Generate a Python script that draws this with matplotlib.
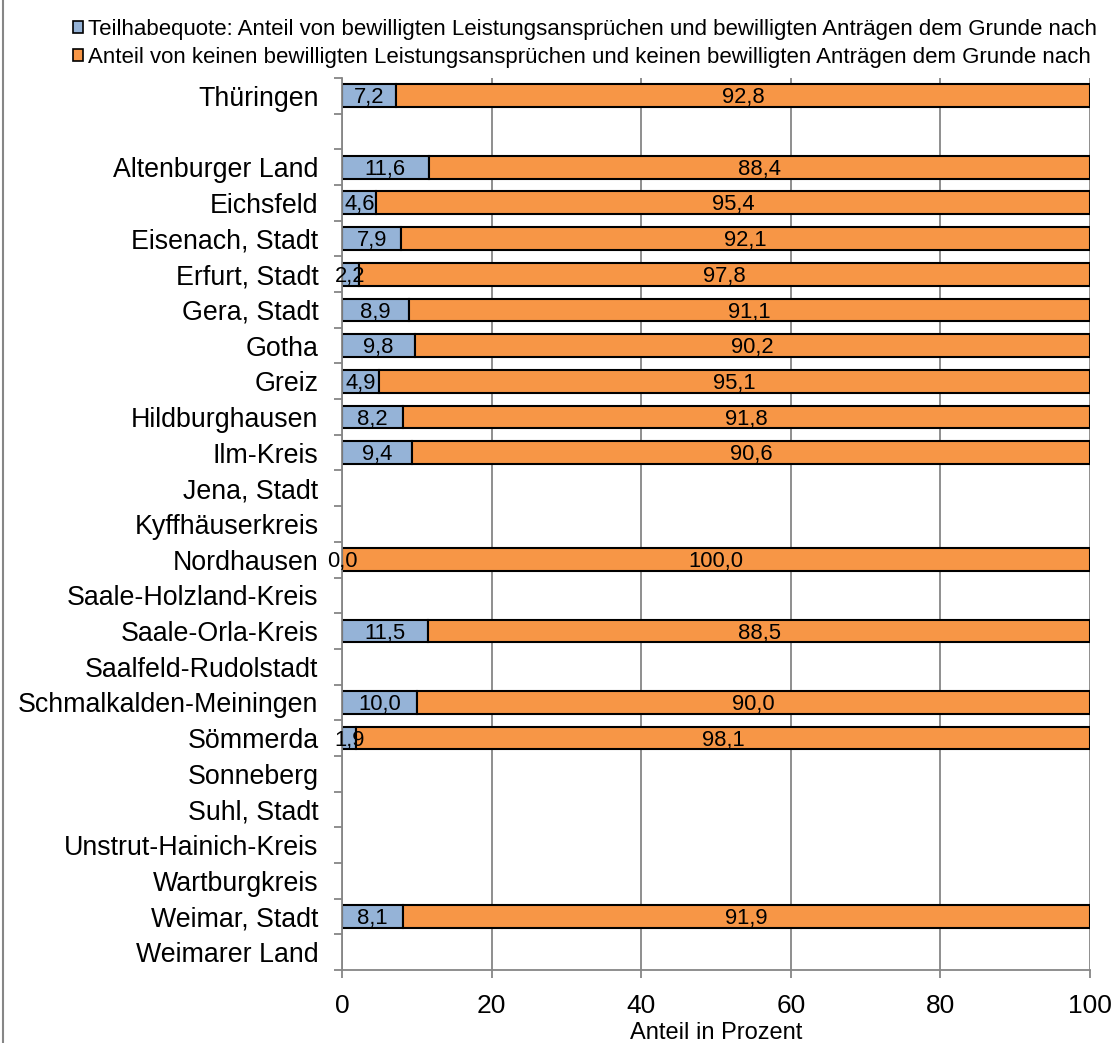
import matplotlib
matplotlib.use('Agg')
import matplotlib.pyplot as plt
import numpy as np
from matplotlib.patches import Patch
from matplotlib.lines import Line2D

plt.rcParams['font.family'] = ['Liberation Sans', 'DejaVu Sans']

# categories (empty string = gap row below Thüringen)
regions = ["Thüringen", "", "Altenburger Land", "Eichsfeld", "Eisenach, Stadt",
           "Erfurt, Stadt", "Gera, Stadt", "Gotha", "Greiz", "Hildburghausen",
           "Ilm-Kreis", "Jena, Stadt", "Kyffhäuserkreis", "Nordhausen",
           "Saale-Holzland-Kreis", "Saale-Orla-Kreis", "Saalfeld-Rudolstadt",
           "Schmalkalden-Meiningen", "Sömmerda", "Sonneberg", "Suhl, Stadt",
           "Unstrut-Hainich-Kreis", "Wartburgkreis", "Weimar, Stadt",
           "Weimarer Land"]

# None = no data for this region
teilhabe = [7.2, None, 11.6, 4.6, 7.9, 2.2, 8.9, 9.8, 4.9, 8.2, 9.4, None, None,
            0.0, None, 11.5, None, 10.0, 1.9, None, None, None, None, 8.1, None]
kein = [92.8, None, 88.4, 95.4, 92.1, 97.8, 91.1, 90.2, 95.1, 91.8, 90.6, None,
        None, 100.0, None, 88.5, None, 90.0, 98.1, None, None, None, None, 91.9, None]

legend_labels = [
    "Teilhabequote: Anteil von bewilligten Leistungsansprüchen und bewilligten Anträgen dem Grunde nach",
    "Anteil von keinen bewilligten Leistungsansprüchen und keinen bewilligten Anträgen dem Grunde nach",
]

blue = '#95b3d7'
orange = '#f79646'
grey = '#868686'

fig = plt.figure(figsize=(11.2, 10.43), dpi=100)
ax = fig.add_axes([0.3054, 0.070, 0.6678, 0.8552])

y = np.arange(len(regions))
t = np.array([np.nan if v is None else v for v in teilhabe])
k = np.array([np.nan if v is None else v for v in kein])

b1 = ax.barh(y, t, height=0.64, color=blue, edgecolor='black', linewidth=1.5)
b2 = ax.barh(y, k, left=t, height=0.64, color=orange, edgecolor='black', linewidth=1.5)

def fmt(v):
    if np.isnan(v):
        return ""
    return ("%.1f" % v).replace(".", ",")

labels = ax.bar_label(b1, labels=[fmt(v) for v in t], label_type='center', fontsize=15.8)
labels += ax.bar_label(b2, labels=[fmt(v) for v in k], label_type='center', fontsize=15.8)
# the labels sit a bit low in the bars in the original
for ann in labels:
    ann.xyann = (0, -1.5)

ax.set_xlim(0, 100)
ax.set_ylim(len(regions) - 0.5, -0.5)
ax.set_xticks([0, 20, 40, 60, 80, 100])
ax.set_xticklabels(["0", "20", "40", "60", "80", "100"], fontsize=19)

# row boundaries get the tick marks, centres get the labels
ax.set_yticks(np.arange(len(regions) + 1) - 0.5)
ax.set_yticklabels([])
ax.set_yticks(y, minor=True)
ax.set_yticklabels(regions, minor=True, fontsize=19.3)
ax.tick_params(axis='y', which='minor', length=0, pad=17)
ax.tick_params(axis='y', which='major', length=6, width=1.3, color=grey, direction='out')
ax.tick_params(axis='x', length=6, width=1.3, color=grey, direction='out', pad=11)

ax.xaxis.grid(True, color=grey, linewidth=1.3)
ax.set_axisbelow(True)
for s in ['top', 'right']:
    ax.spines[s].set_visible(False)
for s in ['left', 'bottom']:
    ax.spines[s].set_color(grey)
    ax.spines[s].set_linewidth(1.3)

ax.set_xlabel("Anteil in Prozent", fontsize=17, labelpad=3)

handles = [Patch(facecolor=blue, edgecolor='black', linewidth=1.2),
           Patch(facecolor=orange, edgecolor='black', linewidth=1.2)]
fig.legend(handles, legend_labels, loc='upper left', bbox_to_anchor=(0.057, 0.990),
           frameon=False, fontsize=16, handlelength=0.45, handleheight=0.45,
           handletextpad=0.25, labelspacing=0.3, borderaxespad=0)

# frame line on the left edge of the figure
fig.add_artist(Line2D([0.0025, 0.0025], [0, 1], color=grey, linewidth=1.5,
                      transform=fig.transFigure))

fig.savefig('out.png', dpi=100)
